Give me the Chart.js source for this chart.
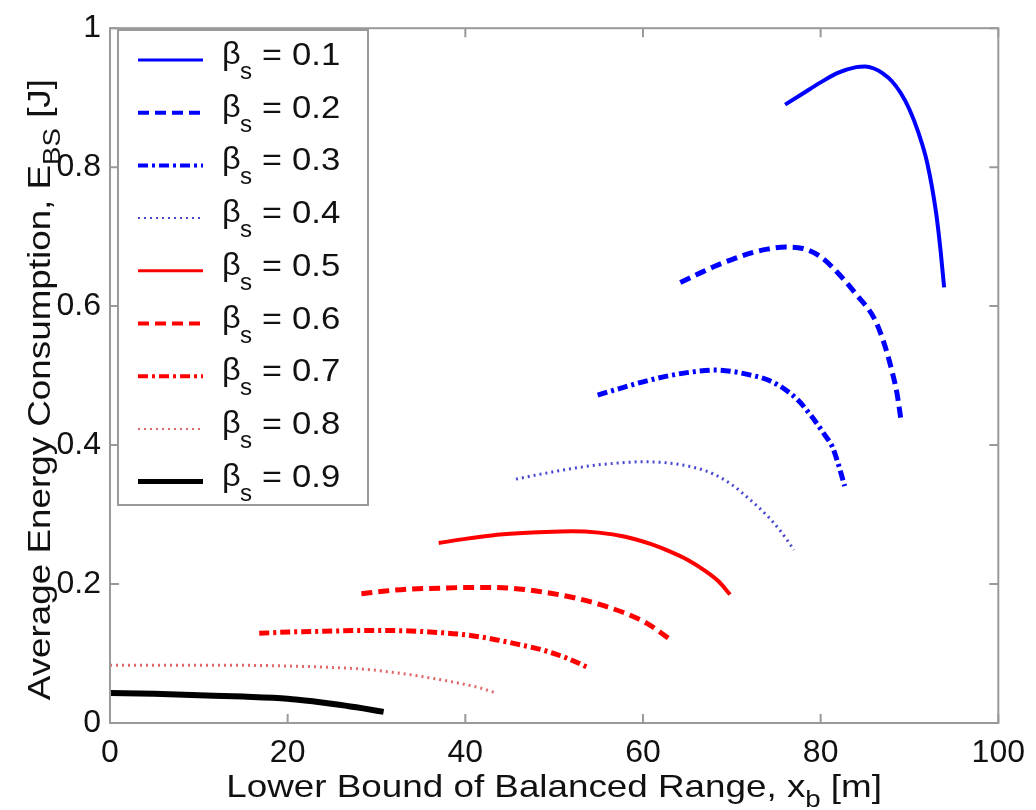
<!DOCTYPE html>
<html>
<head>
<meta charset="utf-8">
<script src="https://cdn.jsdelivr.net/npm/chart.js@4.4.0/dist/chart.umd.min.js"></script>
<style>
  html, body { margin: 0; padding: 0; background: #fff; }
  #wrap { width: 1036px; height: 810px; }
</style>
</head>
<body>
<div id="wrap"><canvas id="energyChart"></canvas></div>
<script>
// beta_s values shown in the legend
const betaLabels = ['0.1', '0.2', '0.3', '0.4', '0.5', '0.6', '0.7', '0.8', '0.9'];

// [x_b (m), E_BS (J)]
const beta01 = [[76,0.890],[78,0.906],[80,0.922],[82,0.936],[84,0.944],[85,0.945],[86,0.942],[87,0.935],[88,0.924],[89,0.907],[90,0.883],[91,0.850],[92,0.806],[93,0.734],[93.5,0.68],[93.9,0.627]];
const beta02 = [[64.2,0.634],[66,0.645],[68,0.657],[70,0.667],[72,0.676],[74,0.682],[76,0.685],[78,0.683],[80,0.671],[82,0.647],[84,0.617],[86,0.583],[87,0.552],[88,0.508],[88.6,0.474],[89.1,0.431]];
const beta03 = [[54.9,0.472],[57,0.480],[60,0.491],[63,0.500],[66,0.506],[68,0.508],[70,0.506],[72,0.501],[74,0.494],[76,0.480],[77.5,0.464],[79,0.441],[80.5,0.414],[81.3,0.398],[82,0.372],[82.7,0.341]];
const beta04 = [[45.7,0.351],[48,0.357],[51,0.364],[54,0.370],[57,0.374],[60,0.376],[63,0.374],[66,0.367],[68,0.358],[70,0.343],[72,0.322],[74,0.298],[75.5,0.276],[77,0.249]];
const beta05 = [[37,0.259],[40,0.265],[43,0.270],[46,0.273],[49,0.275],[52,0.276],[55,0.274],[58,0.268],[61,0.257],[63,0.247],[65,0.235],[67,0.219],[68.5,0.204],[69.8,0.185]];
const beta06 = [[28.3,0.186],[31,0.190],[34,0.193],[37,0.194],[40,0.195],[43,0.195],[46,0.193],[49,0.188],[52,0.181],[55,0.171],[58,0.158],[60.5,0.143],[63,0.121]];
const beta07 = [[16.8,0.129],[20,0.131],[24,0.132],[28,0.133],[32,0.133],[36,0.131],[40,0.127],[43,0.121],[46,0.113],[49,0.104],[51.5,0.093],[53.8,0.080]];
const beta08 = [[0,0.083],[5,0.083],[10,0.083],[15,0.083],[20,0.082],[25,0.080],[29,0.077],[33,0.071],[36,0.065],[39,0.058],[41.5,0.051],[43.5,0.043]];
const beta09 = [[0,0.043],[5,0.042],[10,0.040],[15,0.038],[20,0.035],[23,0.031],[26,0.026],[28.5,0.021],[30.8,0.016]];

const xTicks = [0, 20, 40, 60, 80, 100];
const yTicks = [0, 0.2, 0.4, 0.6, 0.8, 1];

const FONT = '"Liberation Sans", Arial, Helvetica, sans-serif';
const BOX = '#9a9a9a';
const STRETCH = 1.15; // the source text is a little wider than Arial

const seriesData = [beta01, beta02, beta03, beta04, beta05, beta06, beta07, beta08, beta09];
const styles = [
    { color: '#0000ff', width: 4, dash: [] },
    { color: '#0000ff', width: 5, dash: [11, 6] },
    { color: '#0000ff', width: 5, dash: [10, 4, 3, 4] },
    { color: '#4848d0', width: 3, dash: [2, 4] },
    { color: '#ff0000', width: 4, dash: [] },
    { color: '#ff0000', width: 5, dash: [11, 6] },
    { color: '#ff0000', width: 5, dash: [10, 4, 3, 4] },
    { color: '#e06868', width: 3, dash: [2, 4] },
    { color: '#000000', width: 6, dash: [] }
];

const datasets = seriesData.map((pts, i) => ({
    label: 'βs = ' + betaLabels[i],
    data: pts.map(p => ({ x: p[0], y: p[1] })),
    borderColor: styles[i].color,
    borderWidth: styles[i].width,
    borderDash: styles[i].dash,
    pointRadius: 0,
    fill: false,
    cubicInterpolationMode: 'monotone'
}));

// text drawn wider along its own direction
function wideText(ctx, txt, x, y, k) {
    ctx.save();
    ctx.translate(x, y);
    ctx.scale(k, 1);
    ctx.fillText(txt, 0, 0);
    ctx.restore();
}

// main text + subscript + tail, laid out along the current x direction
function subTitle(ctx, cx, y, parts) {
    const big = '32px ' + FONT, small = '24px ' + FONT;
    ctx.font = big;
    const w1 = ctx.measureText(parts[0]).width * STRETCH;
    const w3 = ctx.measureText(parts[2]).width * STRETCH;
    ctx.font = small;
    const w2 = ctx.measureText(parts[1]).width * STRETCH;
    const sx = cx - (w1 + w2 + w3) / 2;
    ctx.font = big;
    wideText(ctx, parts[0], sx, y, STRETCH);
    ctx.font = small;
    wideText(ctx, parts[1], sx + w1, y + 10, STRETCH);
    ctx.font = big;
    wideText(ctx, parts[2], sx + w1 + w2, y, STRETCH);
}

/* box, inward ticks, axis titles and the legend, drawn MATLAB style */
const matlabFrame = {
    id: 'matlabFrame',
    afterDraw(chart) {
        const ctx = chart.ctx;
        const a = chart.chartArea;
        const xs = chart.scales.x, ys = chart.scales.y;
        ctx.save();
        ctx.strokeStyle = BOX;
        ctx.lineWidth = 2;
        ctx.setLineDash([]);
        ctx.strokeRect(a.left, a.top, a.right - a.left, a.bottom - a.top);
        ctx.beginPath();
        xTicks.forEach(v => {
            const px = xs.getPixelForValue(v);
            ctx.moveTo(px, a.bottom); ctx.lineTo(px, a.bottom - 9);
            ctx.moveTo(px, a.top); ctx.lineTo(px, a.top + 9);
        });
        yTicks.forEach(v => {
            const py = ys.getPixelForValue(v);
            ctx.moveTo(a.left, py); ctx.lineTo(a.left + 9, py);
            ctx.moveTo(a.right, py); ctx.lineTo(a.right - 9, py);
        });
        ctx.stroke();

        ctx.fillStyle = '#111';
        ctx.textBaseline = 'alphabetic';
        ctx.textAlign = 'left';

        // x axis title
        subTitle(ctx, (a.left + a.right) / 2, 797, ['Lower Bound of Balanced Range, x', 'b', ' [m]']);

        // y axis title, rotated
        ctx.save();
        ctx.translate(50, (a.top + a.bottom) / 2 + 14);
        ctx.rotate(-Math.PI / 2);
        subTitle(ctx, 0, 0, ['Average Energy Consumption, E', 'BS', ' [J]']);
        ctx.restore();

        // legend
        const lx = 118, ly = 30, lw = 250, lh = 475;
        ctx.fillStyle = '#fff';
        ctx.fillRect(lx, ly, lw, lh);
        ctx.strokeStyle = BOX;
        ctx.lineWidth = 2;
        ctx.strokeRect(lx, ly, lw, lh);
        chart.data.datasets.forEach((ds, i) => {
            const rowY = 60 + i * 52.7;
            ctx.save();
            ctx.strokeStyle = ds.borderColor;
            ctx.lineWidth = Math.max(2, ds.borderWidth - 1);
            ctx.setLineDash(ds.borderDash);
            ctx.beginPath();
            ctx.moveTo(138, rowY);
            ctx.lineTo(203, rowY);
            ctx.stroke();
            ctx.restore();
            ctx.fillStyle = '#111';
            ctx.font = '31px ' + FONT;
            wideText(ctx, 'β', 222, rowY + 4, 1.05);
            ctx.font = '23px ' + FONT;
            wideText(ctx, 's', 240, rowY + 19, 1.05);
            ctx.font = '31px ' + FONT;
            wideText(ctx, '=', 262, rowY + 5, 1.1);
            wideText(ctx, betaLabels[i], 292, rowY + 5, 1.12);
        });
        ctx.restore();
    }
};

const config = {
    type: 'line',
    data: { datasets },
    options: {
        responsive: true,
        maintainAspectRatio: false,
        animation: false,
        layout: { padding: { top: 20, right: 34, left: 0, bottom: 0 } },
        plugins: {
            legend: { display: false },
            tooltip: { enabled: false }
        },
        scales: {
            x: {
                type: 'linear',
                min: 0,
                max: 100,
                afterFit: s => { s.height = 87; },
                afterBuildTicks: s => { s.ticks = xTicks.map(v => ({ value: v })); },
                ticks: {
                    padding: 11,
                    color: '#111',
                    font: { family: FONT, size: 32 },
                    callback: v => String(v),
                    maxRotation: 0
                },
                grid: { display: false, drawTicks: false },
                border: { display: false }
            },
            y: {
                type: 'linear',
                min: 0,
                max: 1,
                afterFit: s => { s.width = 110; },
                afterBuildTicks: s => { s.ticks = yTicks.map(v => ({ value: v })); },
                ticks: {
                    padding: 9,
                    color: '#111',
                    font: { family: FONT, size: 32 },
                    callback: v => String(+v.toFixed(1))
                },
                grid: { display: false, drawTicks: false },
                border: { display: false }
            }
        }
    },
    plugins: [matlabFrame]
};

const energyChart = new Chart(document.getElementById('energyChart'), config);
</script>
</body>
</html>
